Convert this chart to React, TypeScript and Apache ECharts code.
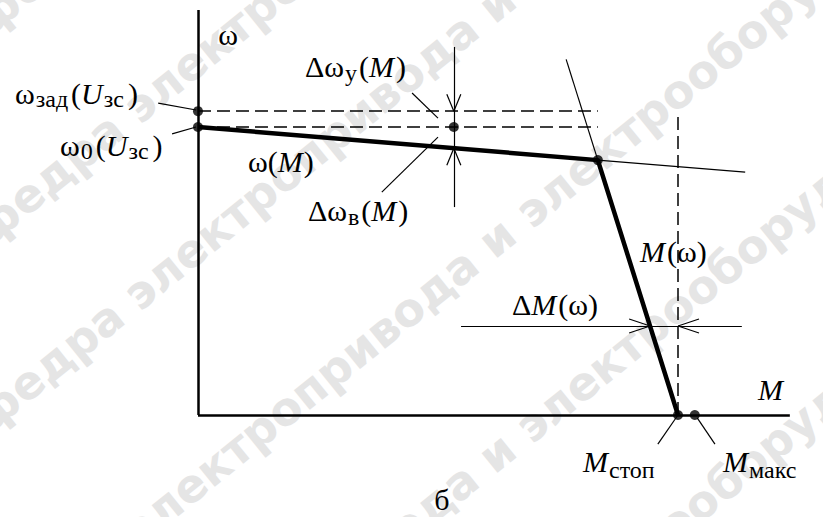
import React, { useEffect, useRef } from "react";
import * as echarts from "echarts";

// Units: torque M as a fraction of M_стоп, speed ω as a fraction of ω0(U_зс)
const M_RANGE = [-0.4125, 1.3021];
const W_RANGE = [-0.3542, 1.441];

// Coordinate axes
const axisM = [[0, 0], [1.233, 0]];
const axisW = [[0, 0], [0, 1.406]];

// Mechanical characteristic: working part ω(M) and limiting part M(ω)
const characteristic = [[0, 1.0], [0.833, 0.885], [1.0, 0]];

// Marked points: ω_зад, ω0, ω0 at the operating torque, break point, M_стоп, M_макс
const keyPoints = [[0, 1.055], [0, 1.0], [0.533, 1.0], [0.833, 0.885], [1.0, 0], [1.035, 0]];

// Dashed reference lines
const dashedLines = [
  [[0, 1.055], [0.833, 1.055]],
  [[0, 1.0], [0.833, 1.0]],
  [[1.0, 0], [1.0, 1.049]],
];

// Thin continuations and dimension lines
const thinLines = [
  [[0.833, 0.885], [1.14, 0.843]],
  [[0.833, 0.885], [0.767, 1.235]],
  [[0.533, 1.278], [0.533, 0.722]],
  [[0.548, 0.309], [1.133, 0.309]],
];

// Leader lines from labels to the marked points
const leaders = [
  [[-0.083, 1.083], [-0.004, 1.059]],
  [[-0.054, 0.976], [-0.004, 1.0]],
  [[0.446, 1.118], [0.5, 1.031]],
  [[0.383, 0.774], [0.5, 0.965]],
  [[1.0, 0], [0.958, -0.101]],
  [[1.04, -0.01], [1.077, -0.101]],
];

// Dimension arrow tips
const arrowsDown = [[0.533, 1.055]];
const arrowsUp = [[0.533, 0.926]];
const arrowsRight = [[0.942, 0.309]];
const arrowsLeft = [[1.0, 0.309]];

const W = 823;
const H = 517;
const PX_M = (M_RANGE[1] - M_RANGE[0]) / W;
const PX_W = (W_RANGE[1] - W_RANGE[0]) / H;
const ARROW_LEN = 17;
const ARROW_HALF = 7;

function wings(tip: number[], dx: number, dy: number, sx: number, sy: number) {
  // dx, dy: direction the arrow points; sx, sy: spread of the two strokes
  const [x, y] = tip;
  return [
    [[x - dx + sx, y - dy + sy], [x, y]],
    [[x - dx - sx, y - dy - sy], [x, y]],
  ];
}

const arrowSegments = [
  ...arrowsDown.flatMap((t) => wings(t, 0, -ARROW_LEN * PX_W, ARROW_HALF * PX_M, 0)),
  ...arrowsUp.flatMap((t) => wings(t, 0, ARROW_LEN * PX_W, ARROW_HALF * PX_M, 0)),
  ...arrowsRight.flatMap((t) => wings(t, 21 * PX_M, 0, 0, ARROW_HALF * PX_W)),
  ...arrowsLeft.flatMap((t) => wings(t, -21 * PX_M, 0, 0, ARROW_HALF * PX_W)),
];

// Formula labels: runs of upright / italic / subscript text on a common baseline
type Run = { t: string; it?: boolean; sub?: boolean; gap?: number };
type Label = { runs: Run[]; x: number; base: number; center?: boolean; drop?: number };

const labels: Label[] = [
  { runs: [{ t: "ω" }], x: 228, base: 45, center: true },
  {
    runs: [{ t: "ω" }, { t: "зад", sub: true, gap: 1 }, { t: "(", gap: 3 }, { t: "U", it: true }, { t: "зс", sub: true, gap: 1 }, { t: ")", gap: 4 }],
    x: 15, base: 104, drop: 3,
  },
  {
    runs: [{ t: "ω" }, { t: "0", sub: true, gap: 1 }, { t: "(", gap: 3 }, { t: "U", it: true }, { t: "зс", sub: true, gap: 1 }, { t: ")", gap: 4 }],
    x: 60, base: 156, drop: 3,
  },
  { runs: [{ t: "ω(" }, { t: "M", it: true }, { t: ")", gap: 1 }], x: 248, base: 172 },
  { runs: [{ t: "Δω" }, { t: "у", sub: true, gap: 1 }, { t: "(", gap: 2 }, { t: "M", it: true }, { t: ")", gap: 2 }], x: 305, base: 77 },
  { runs: [{ t: "Δω" }, { t: "в", sub: true, gap: 1 }, { t: "(", gap: 2 }, { t: "M", it: true }, { t: ")", gap: 2 }], x: 308, base: 221 },
  { runs: [{ t: "M", it: true }, { t: "(ω)", gap: 2 }], x: 640, base: 262 },
  { runs: [{ t: "Δ" }, { t: "M", it: true }, { t: "(ω)", gap: 2 }], x: 512, base: 315 },
  { runs: [{ t: "M", it: true }], x: 758, base: 400 },
  { runs: [{ t: "M", it: true }, { t: "стоп", sub: true, gap: 1 }], x: 583, base: 472, drop: 6 },
  { runs: [{ t: "M", it: true }, { t: "макс", sub: true, gap: 1 }], x: 723, base: 472, drop: 6 },
  { runs: [{ t: "б" }], x: 442, base: 510, center: true },
];

const SERIF = "Liberation Serif, Times New Roman, Times, serif";
const MAIN_SIZE = 30;
const SUB_SIZE = 24;
const CENTRAL = 0.3375; // distance from alphabetic to central baseline, in em

// Diagonal background lettering
const WM_BEFORE = "кафедра электропривода и электрооборудования кафедра ";
const WM_AFTER = "электропривода и электрооборудования кафедра электропривода";
const WM_ROWS = [8, 218, 405, 640, 855, 1070];
const WM_ANGLE = (39 * Math.PI) / 180;

export default function App() {
  const ref = useRef<HTMLDivElement>(null);

  useEffect(() => {
    if (!ref.current) return;
    const chart = echarts.init(ref.current, undefined, { renderer: "svg" });

    const ctx = document.createElement("canvas").getContext("2d")!;
    const measure = (t: string, size: number, it?: boolean) => {
      ctx.font = `${it ? "italic " : ""}${size}px ${SERIF}`;
      return ctx.measureText(t).width;
    };

    const texts: any[] = [];
    labels.forEach((l) => {
      const widths = l.runs.map((r) => (r.gap || 0) + measure(r.t, r.sub ? SUB_SIZE : MAIN_SIZE, r.it));
      const total = widths.reduce((a, b) => a + b, 0);
      let cx = l.center ? l.x - total / 2 : l.x;
      l.runs.forEach((r, k) => {
        const size = r.sub ? SUB_SIZE : MAIN_SIZE;
        const base = l.base + (r.sub ? l.drop ?? 4 : 0);
        cx += r.gap || 0;
        texts.push({
          type: "text",
          x: cx,
          y: base - CENTRAL * size,
          z: 10,
          silent: true,
          style: {
            text: r.t,
            fontFamily: SERIF,
            fontSize: size,
            fontStyle: r.it ? "italic" : "normal",
            fill: "#000",
            align: "left",
            verticalAlign: "middle",
          },
        });
        cx += widths[k] - (r.gap || 0);
      });
    });

    const watermark: any[] = [];
    WM_ROWS.forEach((b) => {
      const ax = 130;
      const ay = b - Math.tan(WM_ANGLE) * ax;
      [
        { t: WM_BEFORE, a: "right" },
        { t: WM_AFTER, a: "left" },
      ].forEach(({ t, a }) =>
        watermark.push({
          type: "text",
          x: ax,
          y: ay,
          rotation: WM_ANGLE,
          z: -10,
          silent: true,
          style: {
            text: t,
            fill: "#e5e5e5",
            fontFamily: "DejaVu Sans, sans-serif",
            fontWeight: "bold",
            fontSize: 46,
            align: a,
            verticalAlign: "middle",
          },
        })
      );
    });

    const lineSeries = (segs: number[][][], width: number, type: any, z: number) => ({
      type: "lines",
      coordinateSystem: "cartesian2d",
      polyline: false,
      silent: true,
      z,
      data: segs.map((c) => ({ coords: c })),
      lineStyle: { color: "#000", width, type, opacity: 1 },
    });

    chart.setOption({
      animation: false,
      backgroundColor: "#fff",
      grid: { left: 0, right: 0, top: 0, bottom: 0 },
      xAxis: { type: "value", min: M_RANGE[0], max: M_RANGE[1], show: false },
      yAxis: { type: "value", min: W_RANGE[0], max: W_RANGE[1], show: false },
      graphic: [...watermark, ...texts],
      series: [
        lineSeries([axisM, axisW], 2.5, "solid", 3),
        lineSeries(dashedLines, 1.5, [13, 6], 3),
        lineSeries(thinLines, 1.2, "solid", 3),
        lineSeries(leaders, 1.2, "solid", 3),
        lineSeries(arrowSegments, 1.2, "solid", 3),
        {
          type: "line",
          data: characteristic,
          symbol: "none",
          silent: true,
          z: 4,
          lineStyle: { color: "#000", width: 4.5, join: "round" },
        },
        {
          type: "scatter",
          data: keyPoints,
          symbol: "circle",
          symbolSize: 10,
          silent: true,
          z: 5,
          itemStyle: { color: "#000" },
        },
      ],
    });

    return () => chart.dispose();
  }, []);

  return (
    <div
      ref={ref}
      style={{ position: "absolute", left: 0, top: 0, width: W, height: H }}
    />
  );
}
